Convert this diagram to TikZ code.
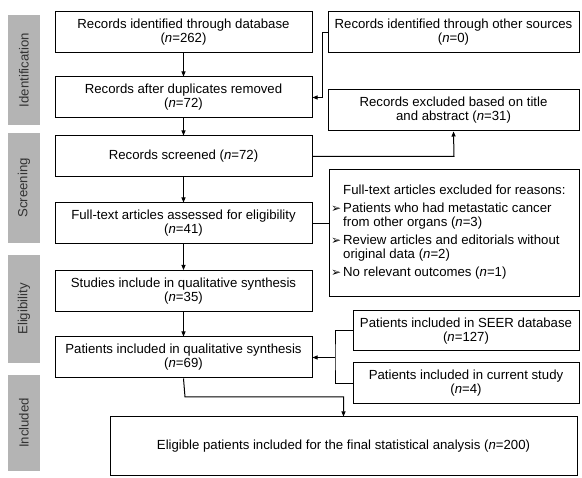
\documentclass[tikz,border=0pt]{standalone}
\usepackage{fontspec}
\setmainfont{Liberation Sans}
\newfontfamily\symfont{DejaVu Sans}
\usepackage{xcolor}
\usetikzlibrary{arrows.meta, positioning}

\definecolor{phase}{HTML}{B4B4B4}
\newcommand{\nn}{\textit{n}}
\newcommand{\bul}{\makebox[12pt][l]{\symfont\fontsize{12}{12}\selectfont ➢}}

\begin{document}
\begin{tikzpicture}[
    x=1pt, y=-1pt,
    every node/.style={font=\fontsize{13.2}{14}\selectfont},
    box/.style={draw, line width=1pt, minimum height=41pt, text centered, align=center, inner sep=0pt},
    main/.style={box, minimum width=257pt},
    side/.style={box, minimum width=251pt},
    phaselbl/.style={fill=phase, minimum height=32pt, rotate=90, text=black!80, inner sep=0pt},
    arrow/.style={-{Triangle[length=5pt, width=4pt]}, line width=1pt},
    link/.style={line width=1pt},
]
\useasboundingbox (0,0) rectangle (582,478);

% === PHASE LABELS ===
\node[phaselbl, minimum width=110pt] (l_id) at (24,70) {Identification};
\node[phaselbl, minimum width=110pt] (l_scr) at (24,188) {Screening};
\node[phaselbl, minimum width=108pt] (l_elig) at (24,309) {Eligibility};
\node[phaselbl, minimum width=96pt] (l_inc) at (24,423) {Included};

% === MAIN COLUMN ===
\node[main] (m1) at (183.5,32.5) {Records identified through database\\(\nn=262)};
\node[main] (m2) at (183.5,97.5) {Records after duplicates removed\\(\nn=72)};
\node[main] (m3) at (183.5,156.5) {Records screened (\nn=72)};
\node[main] (m4) at (183.5,223.5) {Full-text articles assessed for eligibility\\(\nn=41)};
\node[main] (m5) at (183.5,291) {Studies include in qualitative synthesis\\(\nn=35)};
\node[main] (m6) at (183.5,357.5) {Patients included in qualitative synthesis\\(\nn=69)};
\node[box, minimum width=467pt, minimum height=59pt] (final) at (343.5,446.5)
    {Eligible patients included for the final statistical analysis (\nn=200)};

\draw[arrow] (m1) -- (m2);
\draw[arrow] (m2) -- (m3);
\draw[arrow] (m3) -- (m4);
\draw[arrow] (m4) -- (m5);
\draw[arrow] (m5) -- (m6);

% === SIDE COLUMN ===
\node[side] (other) at (453.5,32.5) {Records identified through other sources\\(\nn=0)};
\node[side] (excl) at (453.5,110.5) {Records excluded based on title\\and abstract (\nn=31)};
\node[box, minimum width=250pt, minimum height=127pt] (ftex) at (454,233.5) {};
\node[anchor=west, align=left, inner sep=0pt] (ftex_txt) at (331,232) {%
    \hspace*{12pt}Full-text articles excluded for reasons:\\[4pt]
    \bul Patients who had metastatic cancer\\
    \hspace*{12pt}from other organs (\nn=3)\\[4pt]
    \bul Review articles and editorials without\\
    \hspace*{12pt}original data (\nn=2)\\[4pt]
    \bul No relevant outcomes (\nn=1)};
\node[box, minimum width=226pt, minimum height=40pt] (seer) at (466,331) {Patients included in SEER database\\(\nn=127)};
\node[box, minimum width=226pt, minimum height=41pt] (cur) at (466,383.5) {Patients included in current study\\(\nn=4)};

\coordinate (j_other) at (322,32.5);
\coordinate (j_excl) at (454,156.5);
\coordinate (j_pat) at (335,357.5);
\coordinate (j_fin) at (185,397);

\draw[arrow] (other.west) -- (j_other) |- (m2.east);
\draw[arrow] (m3.east) -- (j_excl) -- (excl.south);
\draw[link] (m4.east) -- (ftex.west |- m4.east);
\draw[link] (seer.west) -| (j_pat) |- (cur.west);
\draw[arrow] (j_pat) -- (m6.east);
\draw[arrow] (m6.south) -- (j_fin) -| (final.north);

\end{tikzpicture}
\end{document}
